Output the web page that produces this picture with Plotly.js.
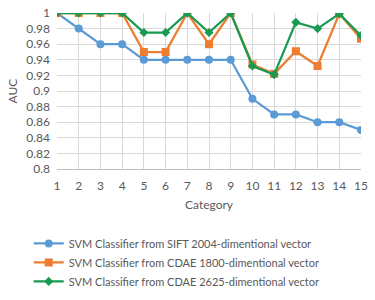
<!DOCTYPE html>
<html><head><meta charset="utf-8">
<script src="https://cdn.plot.ly/plotly-3.0.1.min.js"></script>
<style>html,body{margin:0;padding:0;background:#fff}#c{width:375px;height:300px}</style>
</head><body><div id="c"></div>
<script>
const categories = [1,2,3,4,5,6,7,8,9,10,11,12,13,14,15];
const siftAUC = [1,0.98,0.96,0.96,0.94,0.94,0.94,0.94,0.94,0.89,0.87,0.87,0.86,0.86,0.85];
const cdae1800AUC = [1,1,1,1,0.95,0.95,1,0.96,1,0.934,0.922,0.951,0.932,0.999,0.967];
const cdae2625AUC = [1,1,1,1,0.975,0.975,1,0.975,1,0.932,0.921,0.988,0.98,0.999,0.971];
const names = ["SVM Classifier from SIFT 2004-dimentional vector","SVM Classifier from CDAE 1800-dimentional vector","SVM Classifier from CDAE 2625-dimentional vector"];
const yTicks = [0.8,0.82,0.84,0.86,0.88,0.9,0.92,0.94,0.96,0.98,1];

const fam = "Lato, 'Open Sans', sans-serif";
const grey = "#595959";
const data = [
 {x:categories,y:siftAUC,name:names[0],legendgroup:"a",mode:"lines+markers",line:{color:"#5B9BD5",width:2.25},marker:{symbol:"circle",size:8,color:"#5B9BD5"}},
 {x:categories,y:cdae1800AUC,name:names[1],legendgroup:"b",mode:"lines+markers",line:{color:"#ED7D31",width:2.25},marker:{symbol:"square",size:8,color:"#ED7D31"}},
 {x:categories,y:cdae2625AUC,name:names[2],legendgroup:"c",mode:"lines+markers",line:{color:"#1A9A50",width:2.25},marker:{symbol:"diamond",size:7,color:"#1A9A50"}}
];
const layout = {
 width:375,height:300,
 margin:{l:57,r:14,t:13,b:131},
 paper_bgcolor:"#fff",plot_bgcolor:"#fff",
 font:{family:fam,size:12,color:grey},
 showlegend:true,
 legend:{orientation:"v",x:-0.093,xanchor:"left",yref:"container",y:0.237,yanchor:"top",font:{family:fam,size:11,color:grey},itemwidth:30,tracegroupgap:0},
 xaxis:{range:[1,15],tickvals:categories,ticktext:categories.map(String),showgrid:true,gridcolor:"#d9d9d9",gridwidth:1,zeroline:false,showline:true,linecolor:"#bfbfbf",ticks:"",ticklabelstandoff:6,tickfont:{family:fam,size:12,color:grey},title:{text:"Category",font:{family:fam,size:12,color:grey},standoff:8},fixedrange:true,automargin:false},
 yaxis:{range:[0.8,1],tickvals:yTicks,ticktext:yTicks.map(v=>String(v)),showgrid:true,gridcolor:"#d9d9d9",gridwidth:1,zeroline:false,showline:false,ticks:"",ticklabelstandoff:6,tickfont:{family:fam,size:12,color:grey},title:{text:"AUC",font:{family:fam,size:12,color:grey},standoff:6},fixedrange:true,automargin:false},
};
Plotly.newPlot("c",data,layout,{displayModeBar:false,staticPlot:true});
</script></body></html>
